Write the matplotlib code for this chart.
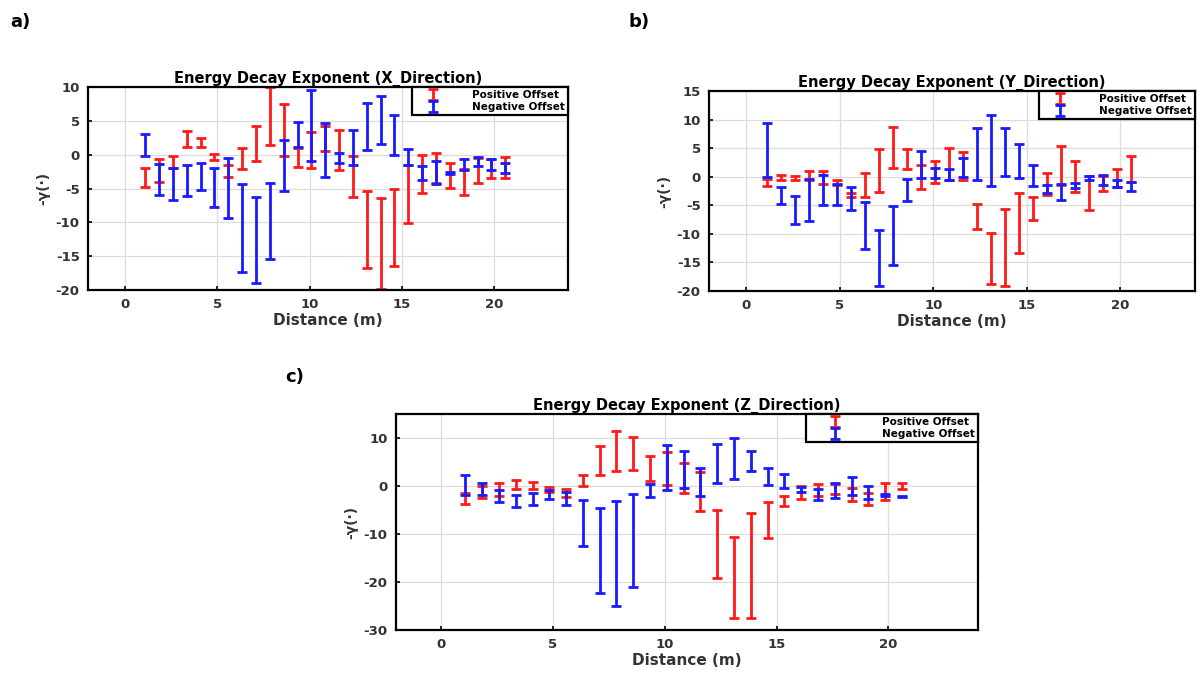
import numpy as np
import matplotlib
matplotlib.use("Agg")
import matplotlib.pyplot as plt

plt.rcParams['font.family'] = ['DejaVu Sans']
plt.rcParams['font.weight'] = 'bold'
plt.rcParams['axes.unicode_minus'] = False

# sensor positions along the line (m)
distance = [1.1, 1.85, 2.6, 3.35, 4.1, 4.85, 5.6, 6.35, 7.1, 7.85, 8.6, 9.35, 10.1, 10.85,
            11.6, 12.35, 13.1, 13.85, 14.6, 15.35, 16.1, 16.85, 17.6, 18.35, 19.1, 19.85, 20.6]

# X direction: upper / lower ends of each interval
x_pos_hi = [-1.9, -0.6, -0.25, 3.5, 2.45, 0.1, -1.5, 1.0, 4.3, 10.0, 7.5, 1.0, 3.3, 4.2,
            3.7, -0.25, -5.4, -6.4, -5.0, -1.5, 0.0, 0.25, -1.2, -2.1, -0.5, -0.7, -0.35]
x_pos_lo = [-4.75, -4.1, -2.0, 1.2, 1.1, -0.8, -3.3, -2.1, -1.0, 1.4, -0.15, -1.8, -2.0, 0.5,
            -2.2, -6.2, -16.7, -19.9, -16.4, -10.1, -5.6, -4.2, -4.9, -5.9, -4.2, -3.4, -3.5]
x_neg_hi = [3.0, -1.4, -1.9, -1.6, -1.2, -1.9, -0.5, -4.4, -6.2, -4.2, 2.1, 4.9, 9.6, 4.7,
            0.25, 3.7, 7.7, 8.7, 5.8, 0.9, -1.7, -1.0, -2.5, -0.7, -0.35, -0.6, -1.2]
x_neg_lo = [-0.15, -5.9, -6.7, -6.1, -5.2, -7.8, -9.4, -17.3, -18.9, -15.4, -5.4, 1.2, -1.0, -3.3,
            -1.2, -1.5, 0.7, 1.6, 0.0, -1.5, -3.7, -4.4, -2.9, -2.2, -1.7, -2.2, -2.7]

# Y direction
y_pos_hi = [-0.4, 0.3, 0.1, 1.0, 1.0, -0.6, -2.9, 0.6, 4.9, 8.7, 4.9, 2.0, 2.7, 5.1,
            4.3, -4.7, -9.8, -5.7, -2.9, -3.5, 0.7, 5.3, 2.7, 0.1, 0.1, 1.4, 3.6]
y_pos_lo = [-1.7, -0.5, -0.6, -0.5, -1.2, -1.5, -3.5, -3.5, -2.6, 1.5, 1.4, -2.1, -1.1, -0.5,
            -0.5, -9.2, -18.7, -19.1, -13.3, -7.5, -3.2, -1.5, -2.7, -5.9, -2.5, -1.8, -0.9]
y_neg_hi = [9.4, -1.75, -3.4, -0.4, 0.3, -1.2, -1.8, -4.4, -9.4, -5.1, -0.45, 4.5, 1.6, 1.4,
            3.3, 8.5, 10.8, 8.5, 5.8, 2.0, -1.5, -1.3, -1.1, 0.1, 0.25, -0.6, -0.9]
y_neg_lo = [0.0, -4.7, -8.3, -7.8, -5.0, -5.0, -5.8, -12.6, -19.2, -15.4, -4.2, -0.3, -0.15, -0.6,
            0.0, -0.5, -1.6, 0.1, -0.3, -1.7, -2.8, -4.0, -1.9, -0.6, -1.5, -1.8, -2.5]

# Z direction
z_pos_hi = [-1.5, 0.0, 0.7, 1.2, 0.9, -0.3, -0.7, 2.3, 8.3, 11.4, 10.2, 6.2, 7.1, 4.8,
            3.0, -5.0, -10.6, -5.7, -3.4, -2.1, -0.1, 0.4, 0.4, -0.5, -1.5, 0.6, 0.6]
z_pos_lo = [-3.7, -2.4, -2.1, -0.7, -0.7, -1.2, -2.2, 0.0, 2.3, 3.2, 3.3, 1.1, 0.2, -1.4,
            -5.3, -19.1, -27.6, -27.5, -10.8, -4.1, -2.8, -2.1, -1.7, -3.2, -3.9, -2.9, -0.7]
z_neg_hi = [2.3, 0.7, -0.8, -1.9, -1.5, -0.8, -1.2, -2.9, -4.6, -3.2, -1.7, 0.4, 8.5, 7.3,
            3.7, 8.8, 10.0, 7.3, 3.8, 2.5, -0.3, -0.7, 0.7, 1.8, 0.0, -1.7, -2.1]
z_neg_lo = [-1.9, -1.9, -3.4, -4.4, -3.9, -2.8, -3.9, -12.6, -22.3, -25.0, -21.0, -2.3, -0.8, -0.5,
            -2.1, 0.7, 1.4, 3.2, 0.2, -0.5, -1.2, -2.9, -2.6, -1.9, -2.8, -2.1, -2.3]

W, H = 1200, 677
fig = plt.figure(figsize=(W / 100, H / 100), dpi=100)


def px_axes(left, top, right, bottom):
    return fig.add_axes([left / W, 1 - bottom / H, (right - left) / W, (bottom - top) / H])


def draw_panel(ax, title, pos_hi, pos_lo, neg_hi, neg_lo, ylim, yticks, leg_w):
    d = np.array(distance)
    for hi, lo, col, lab in [(pos_hi, pos_lo, '#ff1a1a', 'Positive Offset'),
                             (neg_hi, neg_lo, '#1a1aff', 'Negative Offset')]:
        hi, lo = np.array(hi), np.array(lo)
        ax.errorbar(d, (hi + lo) / 2, yerr=(hi - lo) / 2, fmt='none', ecolor=col,
                    elinewidth=2, capsize=3.5, capthick=2, label=lab)
    ax.set_xlim(-2, 24)
    ax.set_ylim(*ylim)
    ax.set_xticks([0, 5, 10, 15, 20])
    ax.set_yticks(yticks)
    ax.grid(True, color='#dcdcdc', lw=0.9)
    ax.set_axisbelow(True)
    for s in ax.spines.values():
        s.set_linewidth(1.6)
    ax.tick_params(direction='in', length=3, width=1.2, labelsize=9.5, pad=6)
    for t in ax.get_xticklabels() + ax.get_yticklabels():
        t.set_fontweight('bold')
        t.set_color('#333333')
    ax.set_title(title, fontsize=10.5, fontweight='bold', pad=2)
    ax.set_xlabel('Distance (m)', fontsize=11, fontweight='bold', color='#333333', labelpad=1)
    ax.set_ylabel('-γ(·)', fontsize=10, fontweight='bold', color='#333333', labelpad=4)
    leg = ax.legend(loc='upper right', prop={'weight': 'bold', 'size': 7.5},
                    handlelength=leg_w, handletextpad=2.0, borderpad=0.3,
                    labelspacing=0.2, fancybox=False, framealpha=1, borderaxespad=0)
    leg.get_frame().set_edgecolor('black')
    leg.get_frame().set_linewidth(1.6)


ax_a = px_axes(88, 87, 568, 290)
draw_panel(ax_a, 'Energy Decay Exponent (X_Direction)', x_pos_hi, x_pos_lo, x_neg_hi, x_neg_lo,
           (-20, 10), [-20, -15, -10, -5, 0, 5, 10], 3.5)

ax_b = px_axes(709, 91, 1195, 291)
draw_panel(ax_b, 'Energy Decay Exponent (Y_Direction)', y_pos_hi, y_pos_lo, y_neg_hi, y_neg_lo,
           (-20, 15), [-20, -15, -10, -5, 0, 5, 10, 15], 3.5)

ax_c = px_axes(396, 414, 978, 630)
draw_panel(ax_c, 'Energy Decay Exponent (Z_Direction)', z_pos_hi, z_pos_lo, z_neg_hi, z_neg_lo,
           (-30, 15), [-30, -20, -10, 0, 10], 5)

fig.text(10 / W, 1 - 22 / H, 'a)', fontsize=13, fontweight='bold', va='center')
fig.text(628 / W, 1 - 22 / H, 'b)', fontsize=13, fontweight='bold', va='center')
fig.text(285 / W, 1 - 377 / H, 'c)', fontsize=13, fontweight='bold', va='center')

fig.savefig('out.png', dpi=100)
